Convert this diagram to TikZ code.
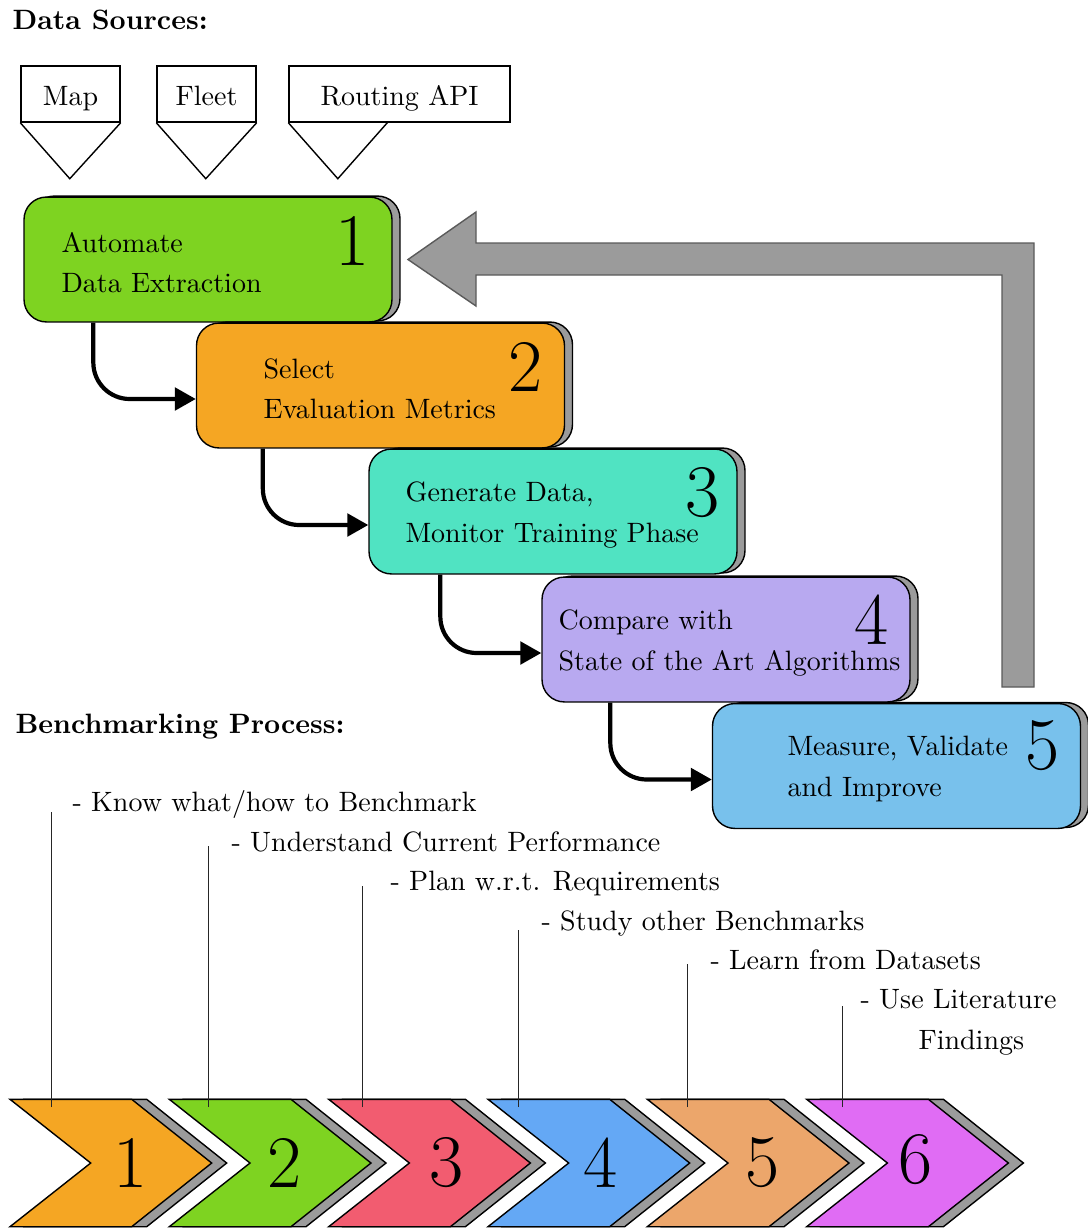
\documentclass[tikz,border=0pt]{standalone}
\usetikzlibrary{arrows.meta,shadows,calc}

\definecolor{stepgreen}{HTML}{7ED321}
\definecolor{steporange}{HTML}{F5A623}
\definecolor{stepteal}{HTML}{50E3C2}
\definecolor{steppurple}{HTML}{B8A9F0}
\definecolor{stepblue}{HTML}{78C1EC}
\definecolor{chevred}{HTML}{F25C70}
\definecolor{chevblue}{HTML}{64A8F5}
\definecolor{chevtan}{HTML}{ECA66B}
\definecolor{chevmagenta}{HTML}{E06CF4}
\definecolor{shadowgray}{HTML}{9B9B9B}
\definecolor{loopedge}{HTML}{5A5A5A}

\tikzset{
  bodytext/.style={font=\fontsize{10}{14.3}\selectfont, inner sep=0pt},
  heading/.style={font=\bfseries, inner sep=0pt, anchor=base west},
  bignum/.style={font=\fontsize{26.5}{30}\selectfont, inner sep=0pt},
  source/.style={draw=black, line width=0.5pt, minimum width=35.36pt, minimum height=20pt,
    inner sep=0pt, text height=8.4pt, text depth=0pt},
  stepbox/.style={draw=black, line width=0.5pt, rounded corners=8pt, minimum width=131.4pt,
    minimum height=44.6pt, inner sep=0pt, fill=#1,
    copy shadow={shadow xshift=2.86pt, shadow yshift=0.36pt, fill=shadowgray, draw=black, line width=0.5pt}},
  flow/.style={line width=1.5pt, rounded corners=13pt, -{Triangle[length=7.5pt,width=8pt]}},
  leader/.style={line width=0.5pt, draw=black!85},
  label/.style={bodytext, anchor=base west},
}

\begin{document}
\begin{tikzpicture}[x=0.3571pt, y=-0.3571pt]
\useasboundingbox (0,0) rectangle (1088,1229);

% ---- data sources ----
\node[heading] (dshead) at (12,29) {Data Sources:};
\node[source] (srcmap) at (70.5,94) {Map};
\node[source] (srcfleet) at (206.5,94) {Fleet};
\node[source, minimum width=78.9pt] (srcapi) at (399.5,94) {Routing API};
\draw[line width=0.5pt] (srcmap.south west) -- ++(49.5,56) -- (srcmap.south east);
\draw[line width=0.5pt] (srcfleet.south west) -- ++(49.5,56) -- (srcfleet.south east);
\draw[line width=0.5pt] (srcapi.south west) -- ++(49.5,56) -- ++(49.5,-56);

% ---- feedback loop arrow ----
\coordinate (loopstart) at (1018,687);
\filldraw[fill=shadowgray, draw=loopedge, line width=0.5pt]
  (1002,687) -- (1002,275) -- (476,275) -- (476,306) -- (408,259.5)
  -- (476,212) -- (476,243) -- (1034,243) -- (1034,687) -- cycle;

% ---- process steps ----
\node[stepbox=stepgreen]  (b1) at (208,259.5) {};
\node[stepbox=steporange] (b2) at (380.5,385.5) {};
\node[stepbox=stepteal]   (b3) at (553,511.5) {};
\node[stepbox=steppurple] (b4) at (726,639.5) {};
\node[stepbox=stepblue]   (b5) at (896.5,766) {};

\node[bodytext, align=left, anchor=west] (t1) at (61,263) {Automate\\Data Extraction};
\node[bodytext, align=left, anchor=west] (t2) at (263,389) {Select\\Evaluation Metrics};
\node[bodytext, align=left, anchor=west] (t3) at (405,515) {Generate Data,\\Monitor Training Phase};
\node[bodytext, align=left, anchor=west] (t4) at (558,643) {Compare with\\State of the Art Algorithms};
\node[bodytext, align=left, anchor=west] (t5) at (787,769) {Measure, Validate\\and Improve};

\node[bignum] (n1) at (353,241) {1};
\node[bignum] (n2) at (526,367) {2};
\node[bignum] (n3) at (703,493) {3};
\node[bignum] (n4) at (872,620) {4};
\node[bignum] (n5) at (1043,746) {5};

\draw[flow] ($(b1.south west)+(70,0)$) |- ($(b2.west)+(0,13.5)$);
\draw[flow] ($(b2.south west)+(67,0)$) |- ($(b3.west)+(0,13.5)$);
\draw[flow] ($(b3.south west)+(72,0)$) |- ($(b4.west)+(0,13.5)$);
\draw[flow] ($(b4.south west)+(69,0)$) |- ($(b5.west)+(0,13.5)$);

% ---- benchmarking process ----
\node[heading] (bphead) at (15,733) {Benchmarking Process:};

\foreach \i/\L/\col/\nx/\ny in {1/10/steporange/131/1163, 2/169.3/stepgreen/285/1163,
    3/328.7/chevred/447/1163, 4/488/chevblue/601/1163, 5/647.3/chevtan/763/1163,
    6/806.7/chevmagenta/916/1160} {
  \filldraw[fill=shadowgray, draw=black, line width=0.5pt]
    (\L+15,1099.3) -- (\L+136.7,1099.3) -- (\L+216.7,1163) -- (\L+136.7,1226.7)
    -- (\L+15,1226.7) -- (\L+95.7,1163) -- cycle;
  \filldraw[fill=\col, draw=black, line width=0.5pt]
    (\L,1099.3) -- (\L+121.7,1099.3) -- (\L+201.7,1163) -- (\L+121.7,1226.7)
    -- (\L,1226.7) -- (\L+80.7,1163) -- cycle;
  \node[bignum] (c\i) at (\nx,\ny) {\i};
}

\node[label] (l1) at (72,811)  {- Know what/how to Benchmark};
\node[label] (l2) at (231,851) {- Understand Current Performance};
\node[label] (l3) at (390,890) {- Plan w.r.t. Requirements};
\node[label] (l4) at (541,930) {- Study other Benchmarks};
\node[label] (l5) at (710,969) {- Learn from Datasets};
\node[label, align=left] (l6) at (860,1049) {- Use Literature\\\hspace*{20.7pt}Findings};

\foreach \i/\px/\top in {1/51.7/812, 2/208.3/846, 3/362.7/886, 4/518.3/930, 5/687.3/964, 6/842.7/1006} {
  \coordinate (pin\i) at (\px,1107);
  \coordinate (pintop\i) at (\px,\top);
  \draw[leader] (pin\i) -- (pintop\i);
}
\end{tikzpicture}
\end{document}
